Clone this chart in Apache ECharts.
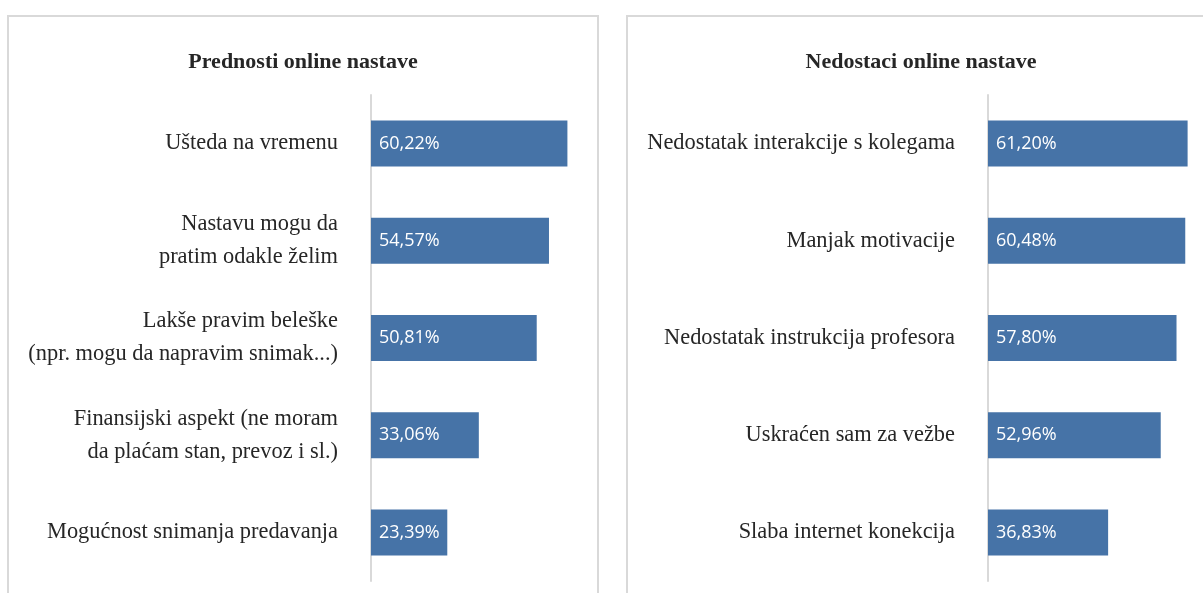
<!DOCTYPE html>
<html>
<head>
<meta charset="utf-8">
<script src="https://cdn.jsdelivr.net/npm/echarts@6/dist/echarts.min.js"></script>
<style>
  html, body { margin: 0; padding: 0; background: #ffffff; }
  #chart { width: 1203px; height: 593px; }
</style>
</head>
<body>
<div id="chart"></div>
<script>
// Advantages of online teaching (share of respondents, %)
const advantageCategories = [
  'Ušteda na vremenu',
  'Nastavu mogu da\npratim odakle želim',
  'Lakše pravim beleške\n(npr. mogu da napravim snimak...)',
  'Finansijski aspekt (ne moram\nda plaćam stan, prevoz i sl.)',
  'Mogućnost snimanja predavanja'
];
const advantageValues = [60.22, 54.57, 50.81, 33.06, 23.39];

// Disadvantages of online teaching (share of respondents, %)
const disadvantageCategories = [
  'Nedostatak interakcije s kolegama',
  'Manjak motivacije',
  'Nedostatak instrukcija profesora',
  'Uskraćen sam za vežbe',
  'Slaba internet konekcija'
];
const disadvantageValues = [61.20, 60.48, 57.80, 52.96, 36.83];

const panelTitles = ['Prednosti online nastave', 'Nedostaci online nastave'];

const serif = '"Liberation Serif", "DejaVu Serif", serif';
const barColor = '#4673a7';
const lineColor = '#d9d9d9';
const textColor = '#262626';
const axisMax = 65;

const fmtPct = v => v.toFixed(2).replace('.', ',') + '%';

function yAxisFor(gridIndex, cats) {
  return {
    type: 'category',
    gridIndex: gridIndex,
    inverse: true,
    data: cats,
    axisLine: { show: true, lineStyle: { color: lineColor, width: 2 } },
    axisTick: { show: false },
    axisLabel: {
      margin: 33,
      fontFamily: serif,
      fontSize: 22.4,
      lineHeight: 33,
      color: textColor,
      align: 'right'
    }
  };
}

function xAxisFor(gridIndex) {
  return {
    type: 'value',
    gridIndex: gridIndex,
    min: 0,
    max: axisMax,
    show: false
  };
}

function barSeries(index, values) {
  return {
    type: 'bar',
    xAxisIndex: index,
    yAxisIndex: index,
    data: values,
    barWidth: 46,
    itemStyle: { color: barColor },
    silent: true,
    label: {
      show: true,
      position: 'insideLeft',
      distance: 8,
      color: '#ffffff',
      fontFamily: '"Open Sans", "Liberation Sans", sans-serif',
      fontSize: 18,
      formatter: p => fmtPct(p.value)
    }
  };
}

const chart = echarts.init(document.getElementById('chart'), null, { renderer: 'canvas' });

chart.setOption({
  backgroundColor: '#ffffff',
  animation: false,
  graphic: [
    {
      type: 'rect',
      shape: { x: 8, y: 16, width: 590, height: 620 },
      style: { fill: 'none', stroke: lineColor, lineWidth: 2 },
      silent: true
    },
    {
      type: 'rect',
      shape: { x: 627, y: 16, width: 620, height: 620 },
      style: { fill: 'none', stroke: lineColor, lineWidth: 2 },
      silent: true
    }
  ],
  title: [
    {
      text: panelTitles[0],
      left: 303,
      top: 51,
      padding: 0,
      textAlign: 'center',
      textStyle: { fontFamily: serif, fontSize: 22, fontWeight: 'bold', color: textColor }
    },
    {
      text: panelTitles[1],
      left: 921,
      top: 51,
      padding: 0,
      textAlign: 'center',
      textStyle: { fontFamily: serif, fontSize: 22, fontWeight: 'bold', color: textColor }
    }
  ],
  grid: [
    { left: 371, top: 95, width: 212, height: 486 },
    { left: 988, top: 95, width: 212, height: 486 }
  ],
  xAxis: [xAxisFor(0), xAxisFor(1)],
  yAxis: [yAxisFor(0, advantageCategories), yAxisFor(1, disadvantageCategories)],
  series: [barSeries(0, advantageValues), barSeries(1, disadvantageValues)]
});
</script>
</body>
</html>
